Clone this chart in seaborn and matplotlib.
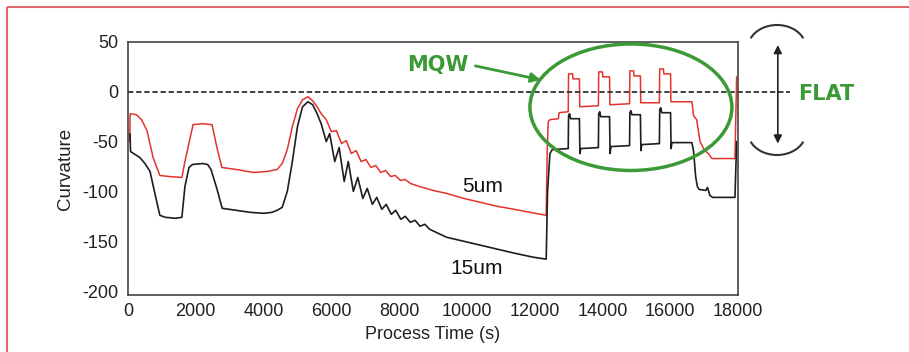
import matplotlib
matplotlib.use("Agg")
import matplotlib.pyplot as plt
from matplotlib.patches import Ellipse, Arc, Rectangle
import seaborn as sns

# ---- data ----
red_x = [50, 65, 250, 400, 560, 740, 940, 1200, 1590, 1680, 1770, 1920, 2200, 2480, 2625, 2770,
         3200, 3700, 4100, 4400, 4550, 4700, 4850, 5000, 5150, 5310,
         5450, 5580, 5700, 5850, 6000, 6150, 6300, 6440, 6590, 6730, 6880, 7020, 7170, 7310,
         7460, 7600, 7750, 7890, 8040, 8180, 8330, 8600, 9000, 9400, 9900, 10400, 10900,
         11400, 11860, 12340,
         12370, 12400, 12450, 12700, 12720, 12990, 13000, 13120, 13130, 13320, 13330, 13880,
         13890, 14000, 14010, 14210, 14220, 14800, 14810, 14920, 14930, 15120, 15130, 15680,
         15690, 15800, 15810, 16010, 16020, 16640, 16690, 16780, 16880, 17000, 17150, 17230,
         17910, 17960]
red_y = [-50, -22, -23, -28, -39, -66, -84, -85, -86, -70, -56, -33, -32, -33, -56, -76,
         -78, -81, -80, -78, -72, -58, -35, -17, -8, -5,
         -9, -15, -22, -28, -40, -39, -52, -49, -62, -59, -70, -68, -76, -74,
         -81, -79, -85, -84, -89, -88, -92, -95, -99, -102, -107, -111, -115,
         -118, -121, -124,
         -60, -30, -28, -27, -21, -20, 18, 18, 13, 13, -15, -14,
         20, 20, 15, 15, -13, -12, 21, 21, 16, 16, -11, -11,
         23, 23, 18, 18, -10, -10, -24, -28, -50, -58, -63, -67,
         -67, 15]

blk_x = [60, 75, 350, 500, 650, 780, 940, 1100, 1400, 1590, 1680, 1800, 1900, 2200, 2350, 2450,
         2620, 2780, 3200, 3600, 4000, 4250, 4400, 4550, 4700, 4850, 5000, 5150, 5310,
         5450, 5580, 5700, 5850, 5950, 6100, 6230, 6380, 6500, 6650, 6780, 6930, 7060, 7210,
         7340, 7490, 7620, 7770, 7900, 8050, 8180, 8330, 8470, 8620, 8760, 8900, 9400, 9900,
         10400, 10900, 11400, 11950, 12340,
         12380, 12450, 12520, 12990, 13000, 13030, 13060, 13320, 13335, 13360, 13880,
         13890, 13920, 13950, 14210, 14225, 14250, 14800, 14810, 14840, 14870, 15120, 15135,
         15160, 15680, 15690, 15720, 15750, 16010, 16025, 16050, 16640, 16690, 16750, 16800,
         16850, 17050, 17100, 17170, 17250, 17910, 17960]
blk_y = [-42, -60, -66, -72, -80, -100, -124, -126, -127, -126, -95, -76, -73, -72, -73, -78,
         -97, -117, -119, -121, -122, -121, -119, -116, -100, -70, -35, -15, -10,
         -13, -22, -32, -50, -42, -70, -56, -90, -70, -100, -86, -107, -97, -113,
         -106, -118, -113, -123, -119, -128, -125, -131, -129, -135, -133, -138, -146, -150,
         -154, -158, -162, -166, -168,
         -100, -62, -58, -57, -24, -22, -27, -27, -62, -57, -56,
         -22, -20, -25, -25, -62, -55, -54, -21, -19, -23, -23, -59,
         -53, -52, -18, -16, -21, -21, -57, -51, -51, -60, -85, -95,
         -98, -99, -96, -104, -106, -106, -50]

x_ticks = [0, 2000, 4000, 6000, 8000, 10000, 12000, 14000, 16000, 18000]
y_ticks = [50, 0, -50, -100, -150, -200]
label_5 = "5um"
label_15 = "15um"

GREEN = "#3c9a36"
RED = "#e3332d"
BLACK = "#1e1e1e"

sns.set_theme(style="white")
plt.rcParams["font.family"] = ["Liberation Sans", "DejaVu Sans"]
plt.rcParams["axes.unicode_minus"] = False

fig = plt.figure(figsize=(9.09, 3.52), dpi=100)
ax = fig.add_axes([128 / 909, 1 - 295 / 352, 610 / 909, 253 / 352])

sns.lineplot(x=red_x, y=red_y, color=RED, linewidth=1.1, sort=False, estimator=None, ax=ax)
sns.lineplot(x=blk_x, y=blk_y, color=BLACK, linewidth=1.2, sort=False, estimator=None, ax=ax)

ax.set_xlim(0, 18000)
ax.set_ylim(-204, 50)
ax.set_xticks(x_ticks)
ax.set_yticks(y_ticks)
ax.tick_params(direction="in", length=3, width=0.8, labelsize=13, colors="#222")
ax.tick_params(axis="y", pad=7)
ax.tick_params(axis="x", pad=6)
for s in ax.spines.values():
    s.set_color("#444")
    s.set_linewidth(1.2)
ax.set_xlabel("Process Time (s)", fontsize=13, color="#222", labelpad=4)
ax.set_ylabel("Curvature", fontsize=13.5, color="#222", labelpad=6)

# flat reference line (extends outside the axes)
ax.axhline(0, xmin=0, xmax=(790 - 128) / 610, color="#333", lw=1.3,
           ls=(0, (3, 1.5)), clip_on=False, zorder=3)

# series labels
ax.text(11060, -95, label_5, ha="right", va="center", fontsize=15, color="#111")
ax.text(11060, -177, label_15, ha="right", va="center", fontsize=15, color="#111")

# MQW annotation
ax.add_patch(Ellipse((14840, -15.5), 5960, 127, fill=False, ec=GREEN, lw=2.5,
                     clip_on=False, zorder=4))
ax.text(9130, 27, "MQW", ha="center", va="center", fontsize=15, fontweight="bold",
        color=GREEN, family="DejaVu Sans")
ax.annotate("", xy=(12180, 12), xytext=(10250, 26),
            arrowprops=dict(arrowstyle="-|>", color=GREEN, lw=2, mutation_scale=14,
                            shrinkA=0, shrinkB=0), annotation_clip=False)

# FLAT annotation on the right
ax.text(20590, -2, "FLAT", ha="center", va="center", fontsize=15, fontweight="bold",
        color=GREEN, family="DejaVu Sans")
ax.annotate("", xy=(19175, 47), xytext=(19175, -52),
            arrowprops=dict(arrowstyle="<|-|>", color="#222", lw=1.2, mutation_scale=12,
                            shrinkA=0, shrinkB=0), annotation_clip=False)

# overlay in figure pixel units for the bow brackets and the frame
ov = fig.add_axes([0, 0, 1, 1], facecolor="none")
ov.set_xlim(0, 909)
ov.set_ylim(352, 0)
ov.axis("off")
ov.add_patch(Arc((777, 48), 58, 46, theta1=200, theta2=340, lw=1.5, color="#333"))
ov.add_patch(Arc((777, 132), 58, 46, theta1=20, theta2=160, lw=1.5, color="#333"))
ov.add_patch(Rectangle((7, 7), 1000, 400, fill=False, ec="#e06868", lw=1.5, clip_on=False))

fig.savefig("out.png", dpi=100)
